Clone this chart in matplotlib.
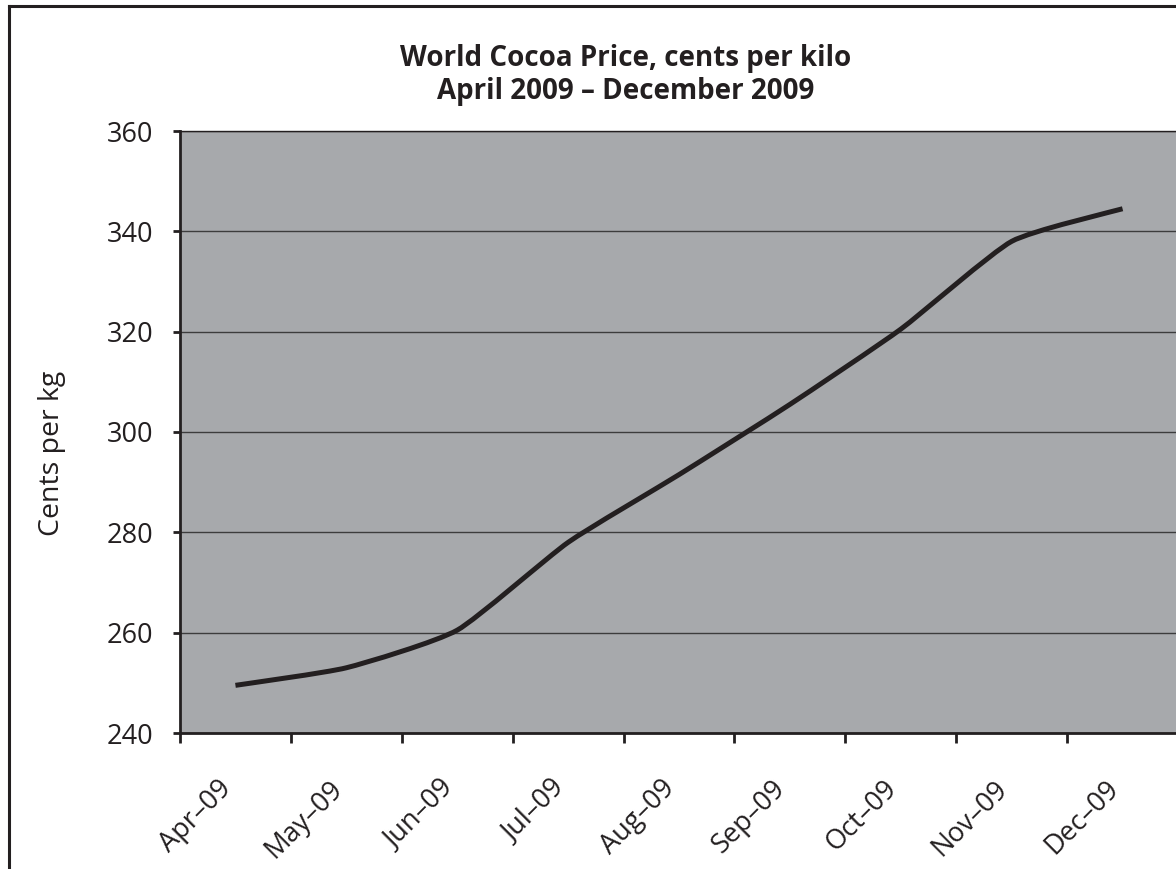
import numpy as np
import matplotlib
matplotlib.use('Agg')
import matplotlib.pyplot as plt
from matplotlib.path import Path
from matplotlib.patches import PathPatch
from matplotlib.lines import Line2D
import matplotlib.transforms as mtransforms

plt.rcParams['font.family'] = ['Open Sans', 'DejaVu Sans']

months = ['Apr–09', 'May–09', 'Jun–09', 'Jul–09', 'Aug–09',
          'Sep–09', 'Oct–09', 'Nov–09', 'Dec–09']
price = [249.5, 253, 260.5, 278, 291.5, 305.5, 320.5, 338, 344.5]
y_ticks = [240, 260, 280, 300, 320, 340, 360]

title = 'World Cocoa Price, cents per kilo\nApril 2009 – December 2009'
ylabel = 'Cents per kg'

ink = '#231f20'
plot_bg = '#a7a9ac'
k = 0.09  # tangent factor of the smoothed line

fig = plt.figure(figsize=(11.76, 8.69), dpi=100)
ax = fig.add_axes([180 / 1176, 136 / 869, 998 / 1176, 602 / 869])
ax.set_facecolor(plot_bg)

# smoothed line, bezier through the data points
x = np.arange(len(price), dtype=float)
y = np.array(price, dtype=float)
xp = np.concatenate([[x[0]], x, [x[-1]]])
yp = np.concatenate([[y[0]], y, [y[-1]]])
verts = [(x[0], y[0])]
codes = [Path.MOVETO]
for i in range(len(x) - 1):
    c1 = (x[i] + (xp[i + 2] - xp[i]) * k, y[i] + (yp[i + 2] - yp[i]) * k)
    c2 = (x[i + 1] - (xp[i + 3] - xp[i + 1]) * k, y[i + 1] - (yp[i + 3] - yp[i + 1]) * k)
    verts += [c1, c2, (x[i + 1], y[i + 1])]
    codes += [Path.CURVE4] * 3
ax.add_patch(PathPatch(Path(verts, codes), facecolor='none', edgecolor=ink,
                       lw=3.6, capstyle='butt', joinstyle='round', zorder=3))

ax.set_xlim(-0.5, len(months) - 0.5)
ax.set_ylim(240, 360)
ax.set_yticks(y_ticks)
ax.yaxis.grid(True, color='#3c3c3c', lw=1.0)
ax.set_axisbelow(True)

# tick marks between categories, labels on the categories
ax.set_xticks(np.arange(len(months) + 1) - 0.5)
ax.set_xticklabels([])
ax.set_xticks(x, minor=True)
ax.set_xticklabels(months, minor=True, rotation=45, ha='right', va='top',
                   rotation_mode='anchor', fontsize=19.5, color=ink)
ax.tick_params(axis='x', which='major', direction='out', length=7, width=2, color=ink)
ax.tick_params(axis='x', which='minor', length=0, pad=30)
offset = mtransforms.ScaledTranslation(-18 / 100, 0, fig.dpi_scale_trans)
for lab in ax.get_xticklabels(minor=True):
    lab.set_transform(lab.get_transform() + offset)

ax.tick_params(axis='y', direction='out', length=5, width=2, color=ink,
               labelsize=19.5, labelcolor=ink, pad=14)

for s in ['left', 'bottom']:
    ax.spines[s].set_color(ink)
    ax.spines[s].set_linewidth(2)
ax.spines['top'].set_color(ink)
ax.spines['top'].set_linewidth(1)
ax.spines['right'].set_visible(False)

fig.text(52 / 1176, 1 - 453 / 869, ylabel, rotation=90, ha='center', va='center',
         fontsize=20.5, color=ink)
fig.text(626 / 1176, 1 - 75 / 869, title, ha='center', va='center',
         fontsize=20, fontweight='bold', color=ink, linespacing=1.2)

# outer frame (left and top edges visible)
fig.add_artist(Line2D([9 / 1176, 9 / 1176], [0, 1 - 6 / 869], color=ink, lw=2.2))
fig.add_artist(Line2D([9 / 1176, 1], [1 - 6 / 869, 1 - 6 / 869], color=ink, lw=2.2))

fig.savefig('out.png', dpi=100)
